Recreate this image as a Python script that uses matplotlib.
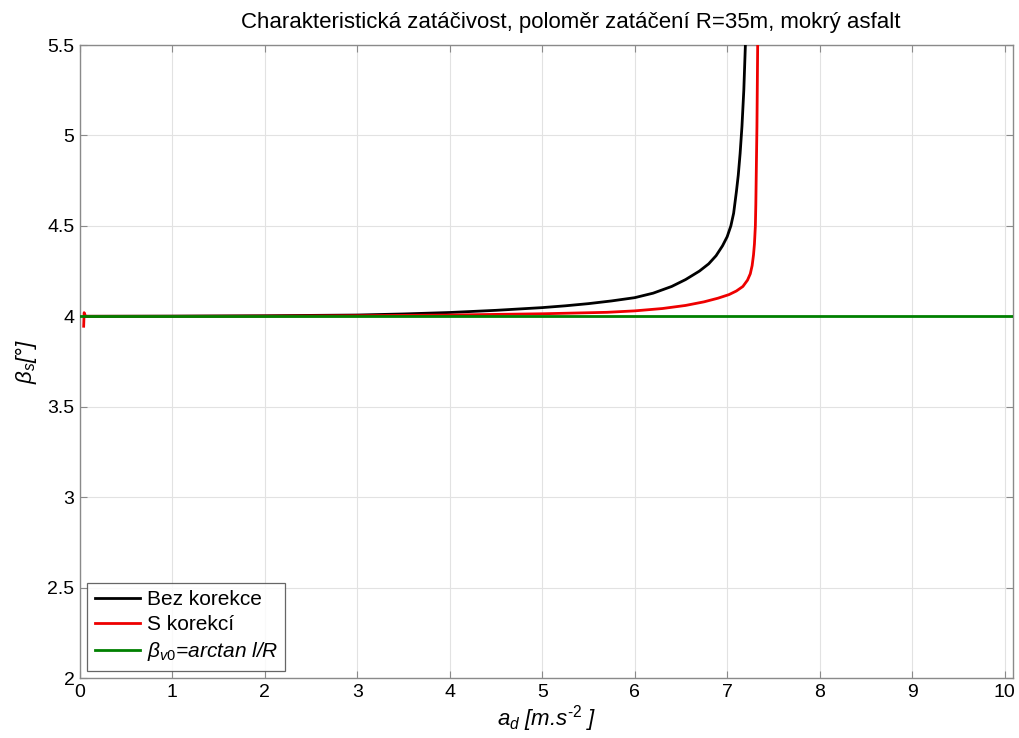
import matplotlib
matplotlib.use("Agg")
import matplotlib.pyplot as plt

plt.rcParams['font.family'] = ['Liberation Sans', 'DejaVu Sans']
plt.rcParams['mathtext.fontset'] = 'custom'
plt.rcParams['mathtext.rm'] = 'Liberation Sans'
plt.rcParams['mathtext.it'] = 'Liberation Sans:italic'
plt.rcParams['mathtext.bf'] = 'Liberation Sans:bold'

# Steady-state slip angle vs. longitudinal deceleration
ad_bez = [0.05, 1.0, 2.0, 3.0, 3.5, 4.0, 4.5, 5.0, 5.25, 5.5, 5.75, 6.0, 6.2,
          6.4, 6.55, 6.7, 6.8, 6.88, 6.95, 7.0, 7.04, 7.07, 7.1, 7.12, 7.14,
          7.16, 7.18, 7.197]
beta_bez = [4.0, 4.001, 4.003, 4.007, 4.013, 4.021, 4.033, 4.048, 4.058, 4.07,
            4.085, 4.103, 4.128, 4.165, 4.203, 4.25, 4.29, 4.335, 4.39, 4.44,
            4.50, 4.57, 4.69, 4.78, 4.90, 5.05, 5.25, 5.5]

ad_kor = [0.04, 0.045, 0.06, 1.0, 2.0, 3.0, 4.0, 5.0, 5.7, 6.0, 6.3, 6.55,
          6.75, 6.9, 7.02, 7.1, 7.17, 7.22, 7.25, 7.27, 7.285, 7.295, 7.305,
          7.31, 7.315, 7.322, 7.33]
beta_kor = [3.945, 4.02, 4.0, 4.0, 4.001, 4.003, 4.007, 4.014, 4.022, 4.03,
            4.043, 4.06, 4.08, 4.10, 4.12, 4.14, 4.165, 4.20, 4.235, 4.28,
            4.34, 4.40, 4.50, 4.62, 4.80, 5.05, 5.5]

ad_v0 = [0.0, 10.09]
beta_v0 = [4.0, 4.0]

x_ticks = [0, 1, 2, 3, 4, 5, 6, 7, 8, 9, 10]
y_ticks = [2, 2.5, 3, 3.5, 4, 4.5, 5, 5.5]
y_tick_labels = ['2', '2.5', '3', '3.5', '4', '4.5', '5', '5.5']

fig = plt.figure(figsize=(10.2, 7.38), dpi=100)
ax = fig.add_axes([0.0784, 0.0813, 0.9146, 0.8577])

ax.plot(ad_bez, beta_bez, color='black', lw=2.0, label='Bez korekce',
        zorder=3, solid_joinstyle='round')
ax.plot(ad_kor, beta_kor, color='#ee0000', lw=2.0, label='S korekcí',
        zorder=3, solid_joinstyle='round')
ax.plot(ad_v0, beta_v0, color='#008000', lw=2.0,
        label=r'$\beta_{v0}$=arctan l/R', zorder=4)

ax.set_xlim(0, 10.09)
ax.set_ylim(2, 5.5)
ax.set_xticks(x_ticks)
ax.set_yticks(y_ticks)
ax.set_yticklabels(y_tick_labels)

ax.grid(True, color='#e2e2e2', lw=0.8, linestyle='-')
ax.set_axisbelow(True)
for s in ax.spines.values():
    s.set_color('#8a8a8a')
    s.set_linewidth(1.0)
ax.tick_params(direction='in', top=True, right=True, length=5,
               color='#8a8a8a', labelsize=14, labelcolor='black', pad=4)

ax.set_title('Charakteristická zatáčivost, poloměr zatáčení R=35m, mokrý asfalt',
             fontsize=16, pad=12, x=0.526)
ax.set_xlabel(r'$a_d$ [m.s$^{\text{-2}}$ ]', fontsize=16, style='italic',
              labelpad=2)
ax.set_ylabel(r'$\beta_s$[°]', fontsize=16, style='italic', labelpad=6)

leg = ax.legend(loc='lower left', fontsize=15, frameon=True, fancybox=False,
                edgecolor='#404040', borderaxespad=0.35, handlelength=2.2,
                labelspacing=0.3, borderpad=0.35, handletextpad=0.3)
leg.get_frame().set_linewidth(0.9)
leg.get_texts()[2].set_style('italic')

fig.savefig('out.png', dpi=100)
